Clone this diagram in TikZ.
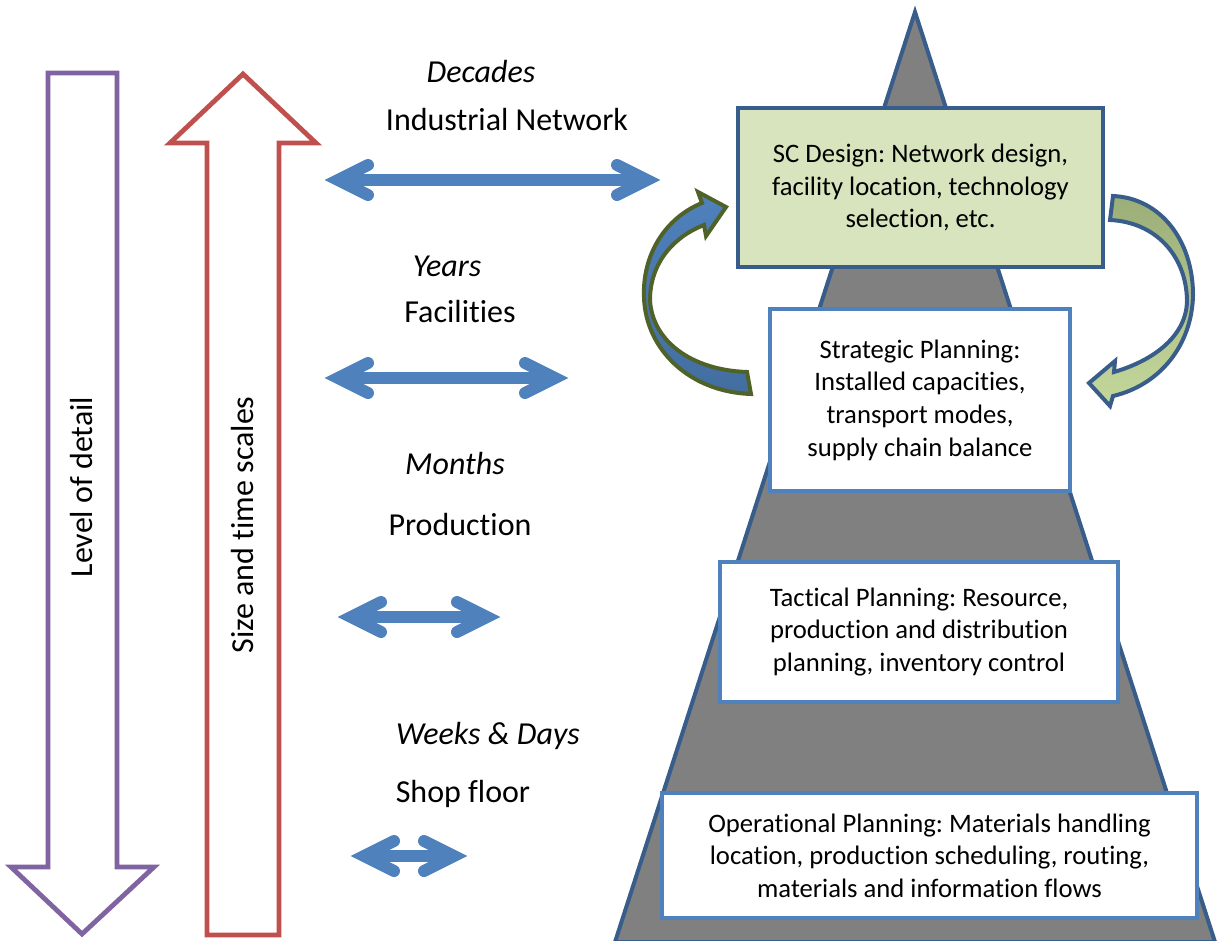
\documentclass[tikz,border=0pt]{standalone}
\usepackage{fontspec}
\setmainfont[Ligatures=NoCommon]{Carlito}
\frenchspacing
\definecolor{accblue}{HTML}{4F81BD}
\definecolor{darkblue}{HTML}{385D8A}
\definecolor{lvlpurple}{HTML}{8064A2}
\definecolor{scalered}{HTML}{C0504D}
\definecolor{designgreen}{HTML}{D7E4BD}
\definecolor{olive}{HTML}{4F6228}
\definecolor{pyrgray}{HTML}{808080}
\definecolor{loopdark}{HTML}{9BAE78}
\definecolor{looplight}{HTML}{C4D79B}

\begin{document}
\begin{tikzpicture}[x=0.75pt,y=-0.75pt,
  box/.style={draw=accblue,line width=2.4pt,fill=white,align=center,
    font=\fontsize{20}{24.5}\selectfont,inner sep=0pt},
  lbl/.style={font=\fontsize{24}{29}\selectfont,anchor=base},
  shaft/.style={draw=accblue,line width=9pt},
  barb/.style={draw=accblue,line width=9pt,line cap=round,line join=miter},
]
\useasboundingbox (0,0) rectangle (1226,940);

% pyramid
\draw [fill=pyrgray,draw=darkblue,line width=3pt] (915,12) -- (1215,942) -- (615,942) -- cycle ;

% level of detail / size and time scales
\draw [lvlpurple,line width=3.6pt] (48,73) -- (117,73) -- (117,867) -- (154,867) -- (82,934)
  -- (11,867) -- (48,867) -- cycle ;
\node (detail) at (82,487) [rotate=90,font=\fontsize{24}{29}\selectfont] {Level of detail} ;
\draw [scalered,line width=3.6pt] (243,74) -- (316,143) -- (279,143) -- (279,935) -- (207,935)
  -- (207,143) -- (170,143) -- cycle ;
\node (scales) at (243,525) [rotate=90,font=\fontsize{24}{29}\selectfont] {Size and time scales} ;

% double arrows
\foreach \n/\y/\a/\b in {dec/180/338/647, yrs/378/338/555, mon/617/351/487, wks/856/364/454} {
  \coordinate (\n L) at (\a,\y) ;
  \coordinate (\n R) at (\b,\y) ;
  \draw [shaft] (\n L) -- (\n R) ;
  \draw [barb] ([shift={(30,-15)}]\n L) -- (\n L) -- ([shift={(30,15)}]\n L) ;
  \draw [barb] ([shift={(-30,-15)}]\n R) -- (\n R) -- ([shift={(-30,15)}]\n R) ;
}

% time and scale labels
\node (decades) at (481,82) [lbl] {\itshape Decades} ;
\node (network) at (507,130) [lbl] {Industrial Network} ;
\node (years) at (447,276) [lbl] {\itshape Years} ;
\node (facil) at (460,322) [lbl] {Facilities} ;
\node (months) at (455,474) [lbl] {\itshape Months} ;
\node (prod) at (460,535) [lbl] {Production} ;
\node (weeks) at (488,744) [lbl] {\itshape Weeks \& Days} ;
\node (shop) at (463,802) [lbl] {Shop floor} ;

% feedback arrows
\draw [olive,line width=3pt,top color=accblue,bottom color=accblue!85!black]
  (747,372) .. controls (690,370) and (652,340) .. (650,300)
  .. controls (650,262) and (675,236) .. (704,225) -- (706,236) -- (726,207)
  -- (698,192) -- (702,203) .. controls (665,218) and (642,255) .. (644,298)
  .. controls (646,350) and (690,392) .. (751,394) -- cycle ;
\draw [darkblue,line width=3pt,top color=loopdark,bottom color=looplight]
  (1113,196) .. controls (1160,198) and (1193,240) .. (1193,295)
  .. controls (1192,345) and (1160,385) .. (1113,396) -- (1110,406) -- (1089,383)
  -- (1115,361) -- (1114,372) .. controls (1155,360) and (1187,335) .. (1187,300)
  .. controls (1186,255) and (1155,222) .. (1110,220) -- cycle ;

% planning levels
\node (design) at (920.5,187.5) [box,draw=darkblue,line width=3pt,fill=designgreen,
  minimum width=273.75pt,minimum height=119.25pt]
  {SC Design: Network design,\\facility location, technology\\selection, etc.} ;
\node (strat) at (920,400) [box,minimum width=225pt,minimum height=136.5pt]
  {Strategic Planning:\\Installed capacities,\\transport modes,\\supply chain balance} ;
\node (tact) at (919,632) [box,minimum width=298.5pt,minimum height=105pt]
  {Tactical Planning: Resource,\\production and distribution\\planning, inventory control} ;
\node (oper) at (929.5,855.5) [box,minimum width=401.25pt,minimum height=93.75pt]
  {Operational Planning: Materials handling\\location, production scheduling, routing,\\materials and information flows} ;
\end{tikzpicture}
\end{document}
